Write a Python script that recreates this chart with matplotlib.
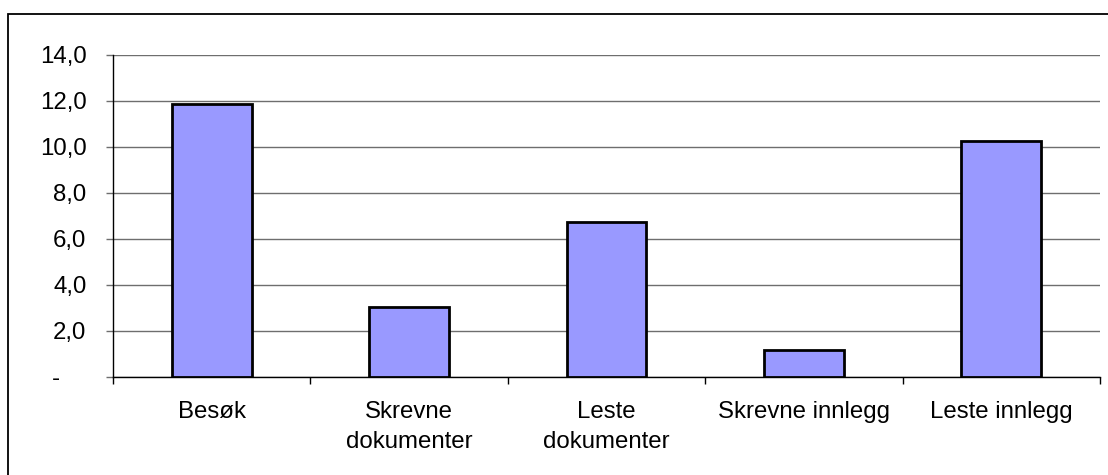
import matplotlib
matplotlib.use("Agg")
import matplotlib.pyplot as plt
from matplotlib.patches import Rectangle
from matplotlib.ticker import FuncFormatter, FixedLocator
from matplotlib.transforms import ScaledTranslation

categories = ["Besøk", "Skrevne\ndokumenter", "Leste\ndokumenter", "Skrevne innlegg", "Leste innlegg"]
values = [11.88, 3.03, 6.74, 1.17, 10.26]
y_ticks = [0, 2, 4, 6, 8, 10, 12, 14]

plt.rcParams['font.family'] = ['Liberation Sans', 'DejaVu Sans']

W, H = 1108, 475
fig = plt.figure(figsize=(W / 100, H / 100), dpi=100)
ax = fig.add_axes([113 / W, 1 - 377 / H, (1100 - 113) / W, (377 - 55) / H])

x = list(range(len(categories)))
ax.bar(x, values, width=0.405, color='#9999FF', edgecolor='black', linewidth=2.0, zorder=3)

ax.set_xlim(-0.5, len(categories) - 0.5)
ax.set_ylim(0, 14)
ax.set_yticks(y_ticks)

def fmt(v, pos):
    if abs(v) < 1e-9:
        return "-"
    return f"{v:.1f}".replace(".", ",")

ax.yaxis.set_major_formatter(FuncFormatter(fmt))
ax.yaxis.grid(True, color='#6e6e6e', linewidth=1.0, zorder=0)
ax.set_axisbelow(True)

ax.set_xticks(x)
ax.set_xticklabels(categories, fontsize=17.3, linespacing=1.45)
ax.xaxis.set_minor_locator(FixedLocator([i - 0.5 for i in range(len(categories) + 1)]))
ax.tick_params(axis='x', which='major', length=0, pad=17.5)
ax.tick_params(axis='x', which='minor', length=5, width=1, color='black', direction='out')
ax.tick_params(axis='y', which='major', length=5, width=1, color='#6e6e6e', direction='out',
               labelsize=17.3, pad=14)

for s in ['top', 'right']:
    ax.spines[s].set_visible(False)
ax.spines['left'].set_color('black')
ax.spines['bottom'].set_color('black')
ax.spines['left'].set_linewidth(1.0)
ax.spines['bottom'].set_linewidth(1.0)

# shift the "-" zero label left (accounting format padding)
fig.canvas.draw()
for lab in ax.get_yticklabels():
    if lab.get_text() == "-":
        lab.set_transform(lab.get_transform() + ScaledTranslation(-0.27, 0, fig.dpi_scale_trans))

# outer chart border
fig.patches.append(Rectangle((8 / W, -0.1), 1.2, 1 - 14 / H + 0.1, transform=fig.transFigure,
                             fill=False, edgecolor='black', linewidth=1.3))

fig.savefig("out.png", dpi=100)
